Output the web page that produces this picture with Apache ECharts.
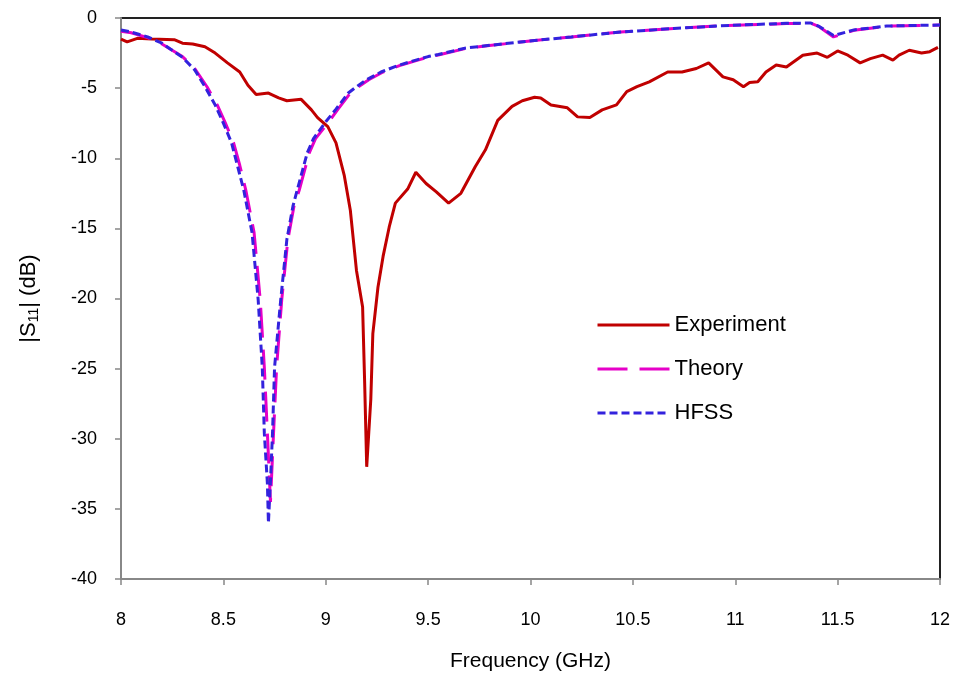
<!DOCTYPE html>
<html>
<head>
<meta charset="utf-8">
<script src="https://cdn.jsdelivr.net/npm/echarts@6/dist/echarts.min.js"></script>
<style>
  html, body { margin: 0; padding: 0; background: #fff; }
  #grafico { width: 959px; height: 681px; }
</style>
</head>
<body>
<div id="grafico"></div>
<script>
// Datos (frecuencia en GHz, |S11| en dB)
var expFreq = [8.00, 8.03, 8.08, 8.15, 8.26, 8.30, 8.35, 8.41, 8.46, 8.52, 8.58, 8.62, 8.66, 8.72, 8.77, 8.81, 8.88, 8.93, 8.96, 9.01, 9.05, 9.09, 9.12, 9.15, 9.18, 9.19, 9.20, 9.22, 9.23, 9.255, 9.28, 9.31, 9.34, 9.40, 9.44, 9.49, 9.54, 9.60, 9.66, 9.73, 9.78, 9.84, 9.91, 9.96, 10.02, 10.05, 10.10, 10.18, 10.23, 10.29, 10.35, 10.42, 10.47, 10.52, 10.58, 10.67, 10.74, 10.81, 10.87, 10.94, 10.99, 11.04, 11.07, 11.11, 11.15, 11.20, 11.25, 11.33, 11.40, 11.45, 11.50, 11.55, 11.61, 11.66, 11.72, 11.77, 11.80, 11.85, 11.91, 11.95, 11.99];
var expS11 = [-1.5, -1.7, -1.45, -1.5, -1.55, -1.8, -1.85, -2.05, -2.5, -3.2, -3.85, -4.8, -5.45, -5.35, -5.7, -5.9, -5.8, -6.55, -7.1, -7.75, -8.9, -11.2, -13.7, -18.0, -20.6, -26, -32.0, -27.2, -22.5, -19.2, -17.0, -14.9, -13.2, -12.2, -11.0, -11.8, -12.4, -13.2, -12.5, -10.6, -9.4, -7.3, -6.3, -5.9, -5.65, -5.7, -6.2, -6.4, -7.05, -7.1, -6.55, -6.2, -5.25, -4.9, -4.55, -3.85, -3.85, -3.6, -3.2, -4.2, -4.4, -4.9, -4.6, -4.55, -3.85, -3.35, -3.5, -2.65, -2.5, -2.8, -2.35, -2.65, -3.2, -2.9, -2.65, -3.0, -2.65, -2.3, -2.5, -2.4, -2.1];

var teoFreq = [8.00, 8.05, 8.13, 8.20, 8.30, 8.36, 8.42, 8.47, 8.51, 8.55, 8.58, 8.61, 8.65, 8.68, 8.70, 8.715, 8.73, 8.745, 8.76, 8.785, 8.815, 8.845, 8.87, 8.92, 8.95, 9.01, 9.06, 9.12, 9.16, 9.21, 9.28, 9.36, 9.45, 9.51, 9.56, 9.69, 9.81, 10.02, 10.2, 10.44, 10.7, 10.93, 11.25, 11.37, 11.41, 11.48, 11.58, 11.74, 12.0];
var teoS11 = [-0.95, -1.05, -1.4, -1.85, -2.75, -3.6, -4.9, -6.2, -7.5, -8.9, -10.5, -12.3, -15.3, -20.1, -24.9, -29.6, -34.5, -29.6, -24.9, -20.1, -15.8, -13.4, -12.3, -9.6, -8.6, -7.5, -6.5, -5.35, -4.9, -4.4, -3.85, -3.4, -3.0, -2.75, -2.6, -2.15, -1.95, -1.6, -1.35, -1.0, -0.75, -0.55, -0.4, -0.38, -0.62, -1.35, -0.88, -0.58, -0.5];

var hfssFreq = [8.00, 8.05, 8.13, 8.20, 8.30, 8.36, 8.41, 8.46, 8.50, 8.54, 8.57, 8.60, 8.64, 8.67, 8.69, 8.70, 8.715, 8.72, 8.73, 8.74, 8.75, 8.78, 8.81, 8.84, 8.86, 8.91, 8.94, 9.00, 9.05, 9.11, 9.15, 9.20, 9.27, 9.35, 9.44, 9.50, 9.55, 9.68, 9.80, 10.02, 10.2, 10.44, 10.7, 10.93, 11.25, 11.37, 11.41, 11.48, 11.58, 11.74, 12.0];
var hfssS11 = [-0.85, -1.0, -1.35, -1.8, -2.8, -3.7, -4.9, -6.2, -7.5, -8.9, -10.6, -12.3, -15.3, -20.1, -24.9, -29.6, -33.2, -36, -33, -29.6, -24.9, -20.1, -15.8, -13.4, -12.3, -9.6, -8.6, -7.4, -6.5, -5.35, -4.9, -4.4, -3.85, -3.4, -3.0, -2.75, -2.6, -2.15, -1.95, -1.6, -1.35, -1.0, -0.75, -0.55, -0.38, -0.36, -0.6, -1.25, -0.85, -0.57, -0.5];

var nombresSeries = ['Experiment', 'Theory', 'HFSS'];

function pares(xs, ys) {
  return xs.map(function (x, i) { return [x, ys[i]]; });
}

var grafico = echarts.init(document.getElementById('grafico'));

var fuente = 'Liberation Sans, Arial, sans-serif';

var option = {
  animation: false,
  backgroundColor: '#fff',
  grid: {
    left: 121,
    right: 19,
    top: 18,
    bottom: 102,
    show: true,
    borderColor: '#222',
    borderWidth: 2
  },
  legend: {
    data: nombresSeries,
    orient: 'vertical',
    left: 591,
    top: 307,
    itemWidth: 72,
    itemHeight: 14,
    itemGap: 18,
    itemStyle: { opacity: 0 },
    lineStyle: { width: 3 },
    textStyle: { fontFamily: fuente, fontSize: 22, color: '#000', lineHeight: 26 }
  },
  xAxis: {
    type: 'value',
    min: 8,
    max: 12,
    interval: 0.5,
    name: 'Frequency (GHz)',
    nameLocation: 'middle',
    nameGap: 72,
    nameTextStyle: { fontFamily: fuente, fontSize: 21, color: '#000' },
    axisLine: { show: true, onZero: false, lineStyle: { color: '#888', width: 2 } },
    axisTick: { show: true, inside: false, length: 6, lineStyle: { color: '#888', width: 1.5 } },
    axisLabel: { fontFamily: fuente, fontSize: 18, color: '#000', margin: 32 },
    splitLine: { show: false }
  },
  yAxis: {
    type: 'value',
    min: -40,
    max: 0,
    interval: 5,
    name: '|S{sub|11}| (dB)',
    nameLocation: 'middle',
    nameGap: 80,
    nameRotate: 90,
    nameTextStyle: {
      fontFamily: fuente, fontSize: 22, color: '#000',
      rich: { sub: { fontFamily: fuente, fontSize: 14, color: '#000', padding: [10, 0, 0, 0] } }
    },
    axisLine: { show: true, onZero: false, lineStyle: { color: '#888', width: 2 } },
    axisTick: { show: true, inside: false, length: 6, lineStyle: { color: '#888', width: 1.5 } },
    axisLabel: { fontFamily: fuente, fontSize: 18, color: '#000', margin: 24 },
    splitLine: { show: false }
  },
  series: [
    {
      name: 'Experiment',
      type: 'line',
      data: pares(expFreq, expS11),
      symbol: 'none',
      color: '#C00000',
      lineStyle: { color: '#C00000', width: 3 },
      z: 2
    },
    {
      name: 'Theory',
      type: 'line',
      data: pares(teoFreq, teoS11),
      symbol: 'none',
      color: '#E600C8',
      lineStyle: { color: '#E600C8', width: 3, type: [30, 12] },
      z: 3
    },
    {
      name: 'HFSS',
      type: 'line',
      data: pares(hfssFreq, hfssS11),
      symbol: 'none',
      color: '#3322DD',
      lineStyle: { color: '#3322DD', width: 3, type: [8, 4] },
      z: 4
    }
  ]
};

grafico.setOption(option);
</script>
</body>
</html>
